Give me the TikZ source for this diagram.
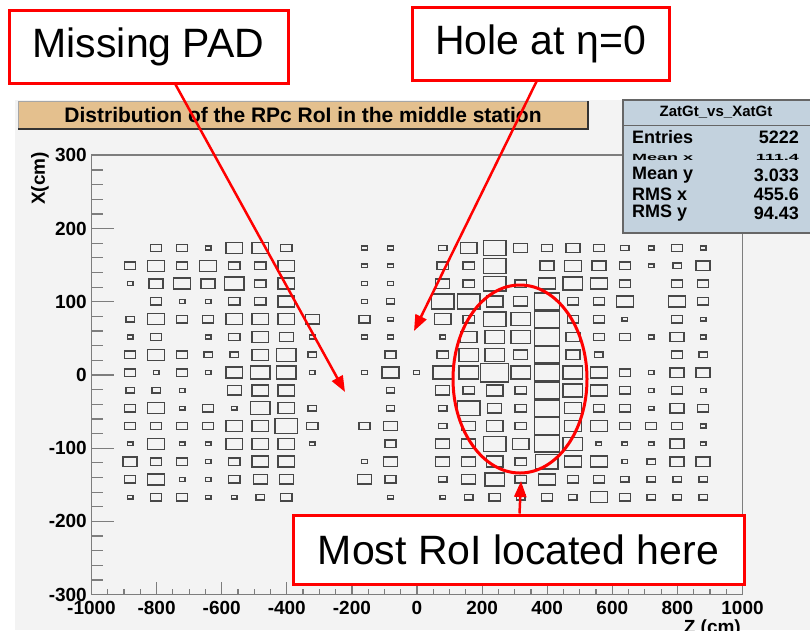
\documentclass[tikz,border=0pt]{standalone}
\usepackage{fontspec}
\setmainfont{Liberation Sans}
\usetikzlibrary{arrows.meta, shapes.geometric}
\definecolor{padgray}{RGB}{243,243,243}
\definecolor{titletan}{RGB}{228,192,142}
\definecolor{statsblue}{RGB}{195,210,222}
\definecolor{framegray}{RGB}{125,125,125}
\newcommand{\bigtxt}{\fontsize{41}{48}\selectfont}
\newcommand{\ticktxt}{\fontsize{19}{22}\selectfont\bfseries}
\newcommand{\stattxt}{\fontsize{18}{20}\selectfont\bfseries}
\tikzset{
  callout/.style={draw=red, line width=3pt, fill=white, inner sep=0pt, font=\bigtxt},
  pointer/.style={red, line width=2.5pt, -{Triangle[length=16pt,width=12pt]}},
  bin/.style={draw=black!72, line width=1.4pt},
  ticklabel/.style={inner sep=0pt, font=\ticktxt},
  axisline/.style={framegray, line width=1.2pt},
}

\begin{document}
\begin{tikzpicture}[x=1pt, y=-1pt]
\useasboundingbox (0,0) rectangle (810,630);
\fill[white] (0,0) rectangle (810,630);
\fill[padgray] (15,100) rectangle (810,630);

% title bar
\fill[titletan] (18,101) rectangle (588,129);
\draw[black!35, line width=1pt] (18,129) -- (18,101) -- (588,101);
\draw[black!80, line width=1.6pt] (18,129) -- (588,129) -- (588,101);
\node[font=\fontsize{21}{23}\selectfont\bfseries, inner sep=0pt] (title) at (303,115)
  {Distribution of the RPc RoI in the middle station};

% frame and axes
\draw[axisline, line width=1.5pt] (91.5,155) rectangle (742.5,594.5);
\foreach \z in {-1000,-950,...,1000}
  \draw[axisline] ({417+0.3255*\z},594.5) -- ++(0,-6);
\foreach \z in {-1000,-800,...,1000} {
  \draw[axisline] ({417+0.3255*\z},594.5) -- ++(0,-13);
  \node[ticklabel, anchor=north] at ({417+0.3255*\z},601) {\z};
}
\foreach \v in {-300,-280,...,300}
  \draw[axisline] (91.5,{375-0.732*\v}) -- ++(11,0);
\foreach \v in {-300,-200,...,300} {
  \draw[axisline] (91.5,{375-0.732*\v}) -- ++(22,0);
  \node[ticklabel, anchor=east] at (87,{375-0.732*\v}) {\v};
}
\node[ticklabel, rotate=90, anchor=east] (xlabel) at (40,152) {X(cm)};
\node[ticklabel, anchor=north east] (zlabel) at (741,620) {Z (cm)};

% bins, rows from X=+168 down to X=-168, columns Z=-880..880
\foreach \row [count=\j from 0] in {%
  {0,2,2,1,3,3,2,0,0,1,1,0,1.5,3,4,2.5,2,2.5,2,1.5,1,2,1},%
  {2,3,2,3,2,2,3,0,0,1,1,0,2,2,4,0,2.5,3,2.5,2,1,1.5,2.5},%
  {1,2.5,3,2.5,3.5,2,3,0,0,1,1,0,2.5,2,4,2,3,3.5,3,2,0,2,2},%
  {0,2,1,1,2,2,3,0,0,1,1.5,0,4,4,3,2.5,4.5,2,2,3,0,3,2},%
  {1.5,3,2,2,3,3,3,2.5,0,2,1,0,3,2,4,3.5,4.5,2,2,1,0,2,1},%
  {1,2,0,1,2,3,2.5,1,0,1,1,0,1,3,3.5,3.5,4.5,2.5,2,2,1,2.5,1},%
  {2,3,2,1.5,1.5,3,3.5,1.5,0,0,2,0,2,3.5,3.5,2.5,4.5,2.5,1.5,0,0,2,1.5},%
  {2,1,2,1,3,3.5,3.5,1,0,1,3,1,3.5,3.5,5,3.5,4.5,3.5,3,2,1,2.5,2.5},%
  {1.5,1.5,1,0,2.5,3,3,0,0,0,1.5,0,2.5,2,3,2,4.5,3.5,3,2,1,2,1},%
  {2,3,1,2,1,3.5,3,1.5,0,0,1.5,0,1.5,4,2.5,2,4.5,3,2,2,1,2.5,2},%
  {2,2,2,2,3,3,4,2,0,2,2.5,0,1.5,2.5,3,2,4.5,3,3,2,2,2,1},%
  {1,3,1,1,3,3,3,1,0,0,2,0,2.5,2.5,4,3,4.5,3.5,1,1,1,2.5,1},%
  {2.5,2,2,1,2,3,3,0,0,1,2.5,0,2.5,2.5,3,2,4,3,3,1,1.5,2.5,2.5},%
  {2,3,1,1,2,2.5,2.5,0,0,2.5,2,0,1.5,2.5,3.5,2,3,2,2,1.5,1.5,1.5,1.5},%
  {1,2,2,1,1,1.5,2,0,0,0,1,0,1,1.5,2,1.5,2,1.5,3,2,1.5,1.5,1.5}%
}{
  \foreach \v [count=\i from 0] in \row {
    \ifdim\v pt>0pt
      \draw[bin] ({130+26.05*\i-2.8*\v},{248+17.8*\j-1.85*\v})
        rectangle ({130+26.05*\i+2.8*\v},{248+17.8*\j+1.85*\v});
    \fi
  }
}

% statistics box
\draw[fill=statsblue, draw=black!60, line width=1.2pt] (623,100) rectangle (815,233);
\draw[black!60, line width=1pt] (623,125) -- (815,125);
\node[font=\fontsize{15}{17}\selectfont\bfseries, inner sep=0pt] (stattitle) at (716,112) {ZatGt\_vs\_XatGt};
\foreach \lab/\val/\yy in {Entries/5222/137, Mean y/3.033/175, RMS x/455.6/194, RMS y/94.43/213} {
  \node[font=\stattxt, inner sep=0pt, anchor=west] at (632,\yy) {\lab};
  \node[font=\stattxt, inner sep=0pt, anchor=east] at (799,\yy) {\val};
}
\node[font=\stattxt, inner sep=0pt, anchor=west, yscale=0.5] at (632,157) {Mean x};
\node[font=\stattxt, inner sep=0pt, anchor=east, yscale=0.5] at (799,157) {111.4};

% callouts
\node[draw=red, line width=3pt, ellipse, minimum width=134pt, minimum height=188pt, inner sep=0pt] (roi) at (520,379) {};
\node[callout, minimum width=279pt, minimum height=73pt] (missing) at (148.5,46.5) {Missing PAD};
\node[callout, minimum width=257pt, minimum height=73pt] (hole) at (540.5,43.5) {Hole at η=0};
\node[callout, minimum width=451pt, minimum height=69pt] (most) at (518.5,549.5) {Most RoI located here};
\coordinate (padtip) at (345,392);
\coordinate (holetip) at (414,331);
\coordinate (roitip) at (521,481);
\draw[pointer] ([xshift=27pt]missing.south) -- (padtip);
\draw[pointer] ([xshift=-4pt]hole.south) -- (holetip);
\draw[pointer] ([xshift=1pt]most.north) -- (roitip);
\end{tikzpicture}
\end{document}
